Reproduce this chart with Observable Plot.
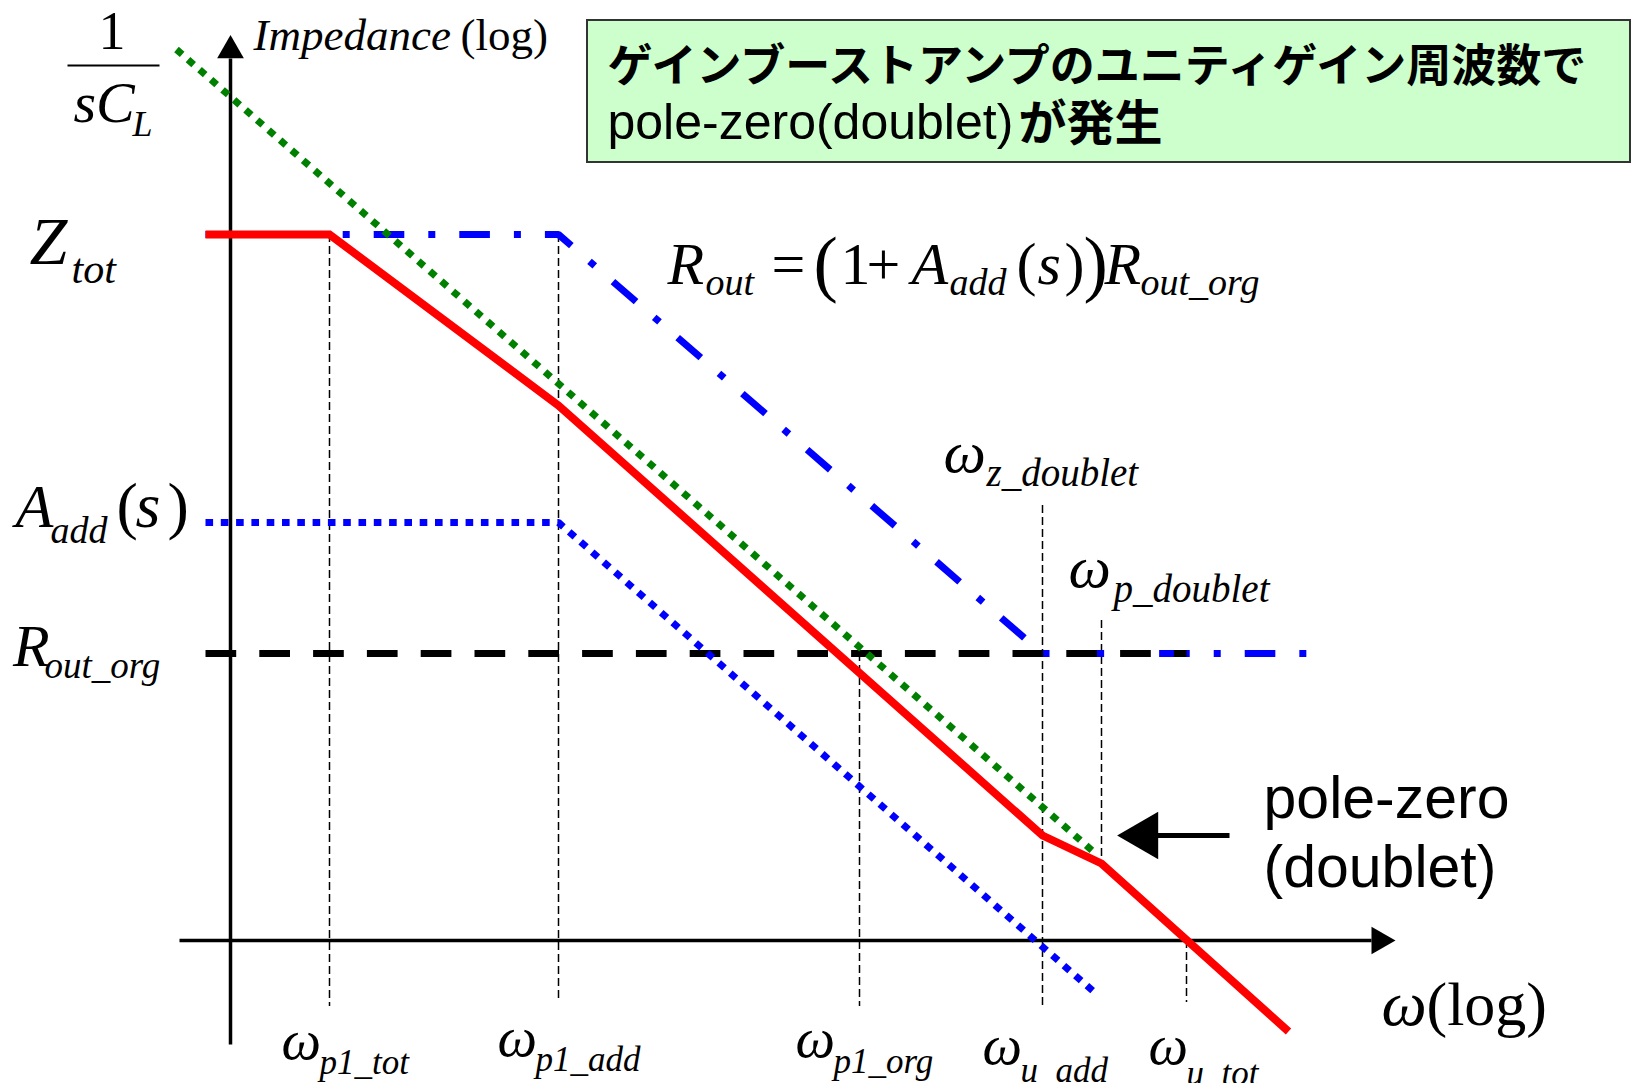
<!DOCTYPE html>
<html><head><meta charset="utf-8">
<script src="https://cdn.jsdelivr.net/npm/d3@7"></script>
<script src="https://cdn.jsdelivr.net/npm/@observablehq/plot@0.6"></script>
<style>html,body{margin:0;padding:0;background:#fff;} #chart svg{display:block;}</style>
</head><body><div id="chart"></div>
<script>
// ---- data: x = log ω (units from the impedance axis), y = log |Z| (units above the ω axis) ----
const ztotX = [-0.25, 0.99, 3.28, 8.12, 8.71, 10.58];      // Z_tot (red)
const ztotY = [7.06, 7.06, 5.35, 1.05, 0.77, -0.91];
const routX = [-0.25, 3.28, 8.12, 10.99];                   // R_out (blue dash-dot)
const routY = [7.06, 7.06, 2.87, 2.87];
const aaddX = [-0.25, 3.28, 8.63];                          // A_add(s) (blue dotted)
const aaddY = [4.18, 4.18, -0.51];
const routOrgX = [-0.25, 9.56];                             // R_out_org (black dashed)
const routOrgY = [2.87, 2.87];
const sclX = [-0.54, 8.65];                                 // 1/sC_L (green dotted)
const sclY = [8.91, 0.87];
const markX = [0.99, 3.28, 6.29, 8.12, 8.71, 9.56];         // frequency markers
const markTop = [7.06, 7.06, 2.87, 4.35, 3.20, 0];
const markBottom = [-0.66, -0.60, -0.66, -0.66, 0.77, -0.62];
const axisX = [-0.51, 11.41];
const axisY = [-1.04, 8.82];
const tickSubs = ["p1_tot", "p1_add", "p1_org", "u_add", "u_tot"];
const boxLine1 = "ゲインブーストアンプのユニティゲイン周波数で";
const boxLine2a = "pole-zero(doublet)";
const boxLine2b = "が発生";
const noteLines = ["pole-zero", "(doublet)"];

// ---- annotation placement ----
const serifItalic = [
  {t: "sC", x: -1.57, y: 8.19, s: 58},
  {t: "L", x: -0.98, y: 8.05, s: 36},
  {t: "Impedance", x: 0.23, y: 8.91, s: 45},
  {t: "Z", x: -2.01, y: 6.77, s: 68},
  {t: "tot", x: -1.59, y: 6.58, s: 42},
  {t: "A", x: -2.15, y: 4.14, s: 62},
  {t: "add", x: -1.80, y: 3.98, s: 38},
  {t: "s", x: -0.95, y: 4.14, s: 64},
  {t: "R", x: -2.175, y: 2.75, s: 60},
  {t: "out_org", x: -1.86, y: 2.63, s: 37},
  {t: "R", x: 4.37, y: 6.57, s: 60},
  {t: "out", x: 4.75, y: 6.46, s: 38},
  {t: "A", x: 6.81, y: 6.57, s: 60},
  {t: "add", x: 7.19, y: 6.46, s: 38},
  {t: "s", x: 8.07, y: 6.57, s: 60},
  {t: "R", x: 8.74, y: 6.57, s: 60},
  {t: "out_org", x: 9.10, y: 6.46, s: 38},
  {t: "ω", x: 7.13, y: 4.69, s: 60},
  {t: "z_doublet", x: 7.56, y: 4.55, s: 39},
  {t: "ω", x: 8.38, y: 3.54, s: 60},
  {t: "p_doublet", x: 8.83, y: 3.39, s: 39},
  {t: "ω", x: 0.51, y: -1.18, s: 56},
  {t: tickSubs[0], x: 0.89, y: -1.33, s: 35},
  {t: "ω", x: 2.67, y: -1.15, s: 56},
  {t: tickSubs[1], x: 3.05, y: -1.30, s: 35},
  {t: "ω", x: 5.65, y: -1.16, s: 56},
  {t: tickSubs[2], x: 6.03, y: -1.32, s: 35},
  {t: "ω", x: 7.52, y: -1.23, s: 56},
  {t: tickSubs[3], x: 7.90, y: -1.41, s: 35},
  {t: "ω", x: 9.18, y: -1.23, s: 56},
  {t: tickSubs[4], x: 9.56, y: -1.44, s: 35},
  {t: "ω", x: 11.51, y: -0.84, s: 64}
];
const serifUpright = [
  {t: "1", x: -1.32, y: 8.92, s: 54},
  {t: "(log)", x: 2.30, y: 8.91, s: 45},
  {t: "(", x: -1.14, y: 4.14, s: 64},
  {t: ")", x: -0.63, y: 4.14, s: 64},
  {t: "=", x: 5.41, y: 6.57, s: 60},
  {t: "(", x: 5.83, y: 6.53, s: 73},
  {t: "1", x: 6.10, y: 6.57, s: 60},
  {t: "+", x: 6.36, y: 6.57, s: 60},
  {t: "(", x: 7.86, y: 6.57, s: 60},
  {t: ")", x: 8.34, y: 6.57, s: 60},
  {t: ")", x: 8.53, y: 6.53, s: 73},
  {t: "(log)", x: 11.96, y: -0.84, s: 62}
];

const serif = "'Liberation Serif', 'Times New Roman', serif";
const sans = "'Liberation Sans', Arial, sans-serif";
const cjk = "'Noto Sans CJK JP', sans-serif";
const common = {textAnchor: "start", lineAnchor: "bottom", fill: "black"};

const chart = Plot.plot({
  width: 1634, height: 1083, margin: 0,
  style: {background: "white"},
  x: {domain: [-2.30, 14.04], axis: null},
  y: {domain: [-1.43, 9.40], axis: null},
  marks: [
    // callout box
    Plot.rect([0], {x1: 3.57, x2: 14.00, y1: 7.78, y2: 9.20, fill: "#ccffcc", stroke: "#333", strokeWidth: 2}),
    Plot.text([boxLine1], {x: 3.77, y: 8.59, text: d => d, ...common, fontSize: 45, fontWeight: "bold", fontFamily: cjk}),
    Plot.text([boxLine2a], {x: 3.77, y: 8.02, text: d => d, ...common, fontSize: 50, fontFamily: sans}),
    Plot.text([boxLine2b], {x: 7.88, y: 8.01, text: d => d, ...common, fontSize: 48, fontWeight: "bold", fontFamily: cjk}),
    // marker lines
    Plot.ruleX(markX, {x: markX, y1: markTop, y2: markBottom, stroke: "black", strokeWidth: 1.5, strokeDasharray: "8,4"}),
    // axes
    Plot.link([0], {x1: axisX[0], x2: axisX[1], y1: 0, y2: 0, stroke: "black", strokeWidth: 3.5}),
    Plot.link([0], {x1: 0, x2: 0, y1: axisY[0], y2: axisY[1], stroke: "black", strokeWidth: 3.5}),
    Plot.dot([0], {x: 0, y: 8.90, symbol: "triangle", r: 9.9, fill: "black"}),
    Plot.dot([0], {x: 11.49, y: 0, symbol: "triangle", r: 10.3, rotate: 90, fill: "black"}),
    // curves
    Plot.line(routX, {x: routX, y: routY, stroke: "#0000ff", strokeWidth: 7, strokeLinecap: "butt",
      strokeLinejoin: "miter", strokeDasharray: "30.6,24,7,24", strokeDashoffset: 3}),
    Plot.line(routOrgX, {x: routOrgX, y: routOrgY, stroke: "black", strokeWidth: 7, strokeLinecap: "butt",
      strokeDasharray: "30.7,23.1"}),
    Plot.line(aaddX, {x: aaddX, y: aaddY, stroke: "#0000ff", strokeWidth: 7, strokeLinecap: "butt",
      strokeLinejoin: "miter", strokeDasharray: "7.6,7.7"}),
    Plot.line(ztotX, {x: ztotX, y: ztotY, stroke: "#ff0000", strokeWidth: 8, strokeLinecap: "butt",
      strokeLinejoin: "miter", strokeMiterlimit: 4}),
    Plot.line(sclX, {x: sclX, y: sclY, stroke: "#008000", strokeWidth: 7, strokeLinecap: "butt",
      strokeDasharray: "7.5,7.8"}),
    // 1/sC_L fraction bar
    Plot.link([0], {x1: -1.63, x2: -0.71, y1: 8.75, y2: 8.75, stroke: "black", strokeWidth: 2}),
    // labels
    Plot.text(serifItalic, {x: "x", y: "y", text: "t", fontSize: "s", fontStyle: "italic", fontFamily: serif, ...common}),
    Plot.text(serifUpright, {x: "x", y: "y", text: "t", fontSize: "s", fontFamily: serif, ...common}),
    Plot.text(noteLines, {x: [10.33, 10.33], y: [1.23, 0.54], text: d => d, fontSize: 59, fontFamily: sans, ...common}),
    // pole-zero arrow
    Plot.link([0], {x1: 9.20, x2: 9.99, y1: 1.05, y2: 1.05, stroke: "black", strokeWidth: 5}),
    Plot.dot([0], {x: 9.14, y: 1.05, symbol: "triangle", r: 17.6, rotate: -90, fill: "black"})
  ]
});
document.getElementById("chart").appendChild(chart);
</script>
</body></html>
